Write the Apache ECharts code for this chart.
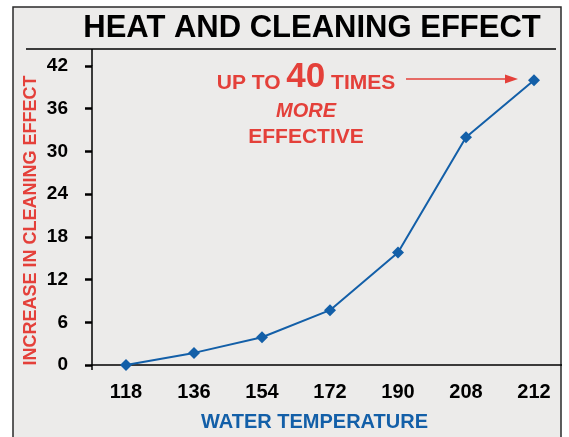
<!DOCTYPE html>
<html>
<head>
<meta charset="utf-8">
<script src="https://cdn.jsdelivr.net/npm/echarts@6/dist/echarts.min.js"></script>
<style>
html,body{margin:0;padding:0;background:#fff;}
#chart{width:569px;height:437px;}
</style>
</head>
<body>
<div id="chart"></div>
<script>
const titleText = 'HEAT AND CLEANING EFFECT';
const temperatures = ['118', '136', '154', '172', '190', '208', '212'];
const cleaningEffect = [0, 1.7, 3.9, 7.7, 15.8, 32, 40];
const yTicks = { min: 0, max: 42, interval: 6 };
const xAxisName = 'WATER TEMPERATURE';
const yAxisName = 'INCREASE IN CLEANING EFFECT';

const RED = '#e4403a';
const BLUE = '#135fa8';
const FONT = 'Liberation Sans';

const chart = echarts.init(document.getElementById('chart'), null, { renderer: 'canvas' });

chart.setOption({
  backgroundColor: '#ffffff',
  animation: false,
  grid: { left: 92, top: 66, bottom: 72, width: 476, containLabel: false },
  xAxis: {
    type: 'category',
    data: temperatures,
    boundaryGap: true,
    name: xAxisName,
    nameLocation: 'middle',
    nameGap: 47,
    nameMoveOverlap: false,
    nameTextStyle: { color: BLUE, fontWeight: 'bold', fontSize: 20, fontFamily: FONT, padding: [0, 31, 0, 0] },
    axisLine: { lineStyle: { color: '#000', width: 1.5 } },
    axisTick: { alignWithLabel: true, length: 9, lineStyle: { color: '#000', width: 2.5 } },
    axisLabel: { color: '#000', fontWeight: 'bold', fontSize: 20, fontFamily: FONT, margin: 17 },
    splitLine: { show: false }
  },
  yAxis: {
    type: 'value',
    min: yTicks.min,
    max: yTicks.max,
    interval: yTicks.interval,
    name: yAxisName,
    nameLocation: 'middle',
    nameGap: 52,
    nameMoveOverlap: false,
    nameTextStyle: { color: RED, fontWeight: 'bold', fontSize: 18, fontFamily: FONT, padding: [0, 10, 0, 0] },
    axisLine: { show: true, lineStyle: { color: '#000', width: 1.5 } },
    axisTick: { show: true, length: 7, lineStyle: { color: '#000', width: 2.5 } },
    axisLabel: { color: '#000', fontWeight: 'bold', fontSize: 19, fontFamily: FONT, margin: 24 },
    splitLine: { show: false }
  },
  series: [{
    type: 'line',
    data: cleaningEffect,
    symbol: 'diamond',
    symbolSize: 12,
    lineStyle: { color: BLUE, width: 2 },
    itemStyle: { color: BLUE },
    z: 5
  }],
  graphic: [
    { type: 'rect', z: -10, shape: { x: 13, y: 7, width: 548, height: 440 },
      style: { fill: '#ecebea', stroke: '#2a2a2a', lineWidth: 1.5 } },
    { type: 'text', z: 10, x: 312, y: 28,
      style: { text: titleText, fill: '#000', fontWeight: 'bold', fontSize: 31, fontFamily: FONT, align: 'center', verticalAlign: 'middle' } },
    { type: 'line', z: 10, shape: { x1: 26, y1: 49, x2: 556, y2: 49 }, style: { stroke: '#000', lineWidth: 1.5 } },
    { type: 'line', z: 10, shape: { x1: 92, y1: 49, x2: 92, y2: 66 }, style: { stroke: '#000', lineWidth: 1.5 } },
    { type: 'line', z: 10, shape: { x1: 92, y1: 365, x2: 92, y2: 370 }, style: { stroke: '#000', lineWidth: 1.5 } },
    { type: 'text', z: 10, x: 306, y: 77,
      style: {
        text: '{a|UP TO }{b|40}{a| TIMES}',
        align: 'center', verticalAlign: 'middle',
        rich: {
          a: { fill: RED, fontWeight: 'bold', fontSize: 21, fontFamily: FONT, verticalAlign: 'bottom', padding: [0, 0, 1, 0] },
          b: { fill: RED, fontWeight: 'bold', fontSize: 35, fontFamily: FONT, verticalAlign: 'bottom' }
        }
      } },
    { type: 'text', z: 10, x: 306, y: 111,
      style: { text: 'MORE', fill: RED, fontStyle: 'italic', fontWeight: 'bold', fontSize: 20, fontFamily: FONT, align: 'center', verticalAlign: 'middle' } },
    { type: 'text', z: 10, x: 306, y: 137,
      style: { text: 'EFFECTIVE', fill: RED, fontWeight: 'bold', fontSize: 21, fontFamily: FONT, align: 'center', verticalAlign: 'middle' } },
    { type: 'line', z: 10, shape: { x1: 406, y1: 79, x2: 508, y2: 79 }, style: { stroke: RED, lineWidth: 1.5 } },
    { type: 'polygon', z: 10, shape: { points: [[505, 74.5], [518, 79], [505, 83.5]] }, style: { fill: RED } },
    { type: 'rect', z: 100, shape: { x: 562, y: 0, width: 10, height: 437 }, style: { fill: '#ffffff' } }
  ]
});
</script>
</body>
</html>
